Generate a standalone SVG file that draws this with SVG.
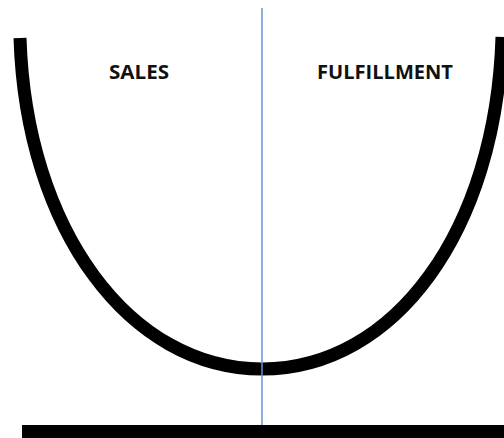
<svg xmlns="http://www.w3.org/2000/svg" width="504" height="438" viewBox="0 0 504 438">
  <style>
    .label { font-family: "Open Sans", "Liberation Sans", sans-serif; font-weight: bold; font-size: 19px; fill: #111; text-anchor: middle; }
    .curve { fill: none; stroke: #000; stroke-width: 13; stroke-linecap: butt; }
    .divider { stroke: #6b93cf; stroke-width: 1.5; }
  </style>
  <rect width="504" height="438" fill="#fff"/>
  <g id="connectors">
    <!-- U-shaped curve: left half and right half meeting at the bottom -->
    <path class="curve" d="M20,38 C26,230 130,369 262,369 C395,369 496,230 502,37"/>
    <!-- vertical divider -->
    <line class="divider" x1="262" y1="8" x2="262" y2="425"/>
  </g>
  <g id="base">
    <rect x="22" y="425" width="482" height="13" fill="#000"/>
  </g>
  <g id="sales">
    <text class="label" x="139" y="79" textLength="60" lengthAdjust="spacingAndGlyphs">SALES</text>
  </g>
  <g id="fulfillment">
    <text class="label" x="385" y="79" textLength="136" lengthAdjust="spacingAndGlyphs">FULFILLMENT</text>
  </g>
</svg>
